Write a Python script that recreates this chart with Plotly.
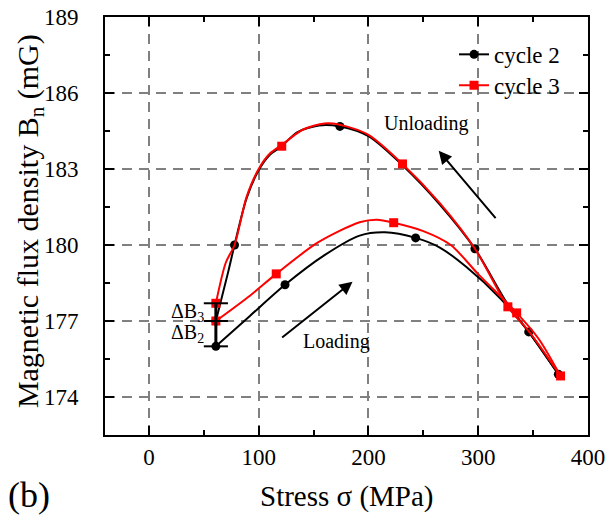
import plotly.graph_objects as go

# ---- curve paths (stress MPa, flux mG) ----
c2_load_x = [61, 92, 124, 160, 192, 215, 243, 265, 289, 320, 346, 373]
c2_load_y = [176.0, 177.2, 178.43, 179.6, 180.37, 180.5, 180.28, 179.9, 179.14, 177.9,
             176.57, 174.9]
c2_unload_x = [373, 346, 327, 297, 265, 231, 200, 174, 155, 135, 121, 110, 100, 89, 78, 72, 61]
c2_unload_y = [174.9, 176.57, 177.65, 179.85, 181.6, 183.15, 184.3, 184.68, 184.72, 184.45,
               183.9, 183.55, 182.95, 181.85, 180.0, 178.9, 177.0]

c3_load_x = [61, 92, 116, 154, 192, 208, 223, 250, 275, 300, 335, 355, 375]
c3_load_y = [177.0, 178.0, 178.86, 180.1, 180.9, 181.0, 180.88, 180.55, 180.0, 178.85,
             177.32, 176.3, 174.83]
c3_unload_x = [375, 346, 327, 297, 265, 231, 200, 174, 160, 140, 121, 110, 100, 89, 78, 70, 61]
c3_unload_y = [174.83, 176.6, 177.56, 179.85, 181.65, 183.2, 184.35, 184.75, 184.8, 184.55,
               183.95, 183.6, 183.0, 181.9, 180.0, 179.3, 177.7]

# ---- marked measurement points ----
c2_mark_x = [61, 124, 243, 346, 373, 297, 174, 78, 61]
c2_mark_y = [176.0, 178.43, 180.28, 176.57, 174.9, 179.85, 184.68, 180.0, 177.0]
c3_mark_x = [61, 116, 223, 335, 375, 327, 231, 121, 61]
c3_mark_y = [177.0, 178.86, 180.88, 177.32, 174.83, 177.56, 183.2, 183.9, 177.7]

x_tickvals = [0, 100, 200, 300, 400]
y_tickvals = [174, 177, 180, 183, 186, 189]

FONT = "Liberation Serif, Times New Roman, serif"

fig = go.Figure()

def add_cycle(name, color, symbol, lx, ly, ux, uy, mx, my, legend_id):
    for xs, ys in ((lx, ly), (ux, uy)):
        fig.add_trace(go.Scatter(
            x=xs, y=ys, mode="lines", showlegend=False,
            line=dict(color=color, width=2, shape="spline", smoothing=0.8),
            hoverinfo="skip"))
    fig.add_trace(go.Scatter(
        x=mx, y=my, mode="markers", showlegend=False,
        marker=dict(color=color, symbol=symbol, size=9)))
    # legend entry
    fig.add_trace(go.Scatter(
        x=[None], y=[None], mode="lines+markers", name=name, legend=legend_id,
        line=dict(color=color, width=2), marker=dict(color=color, symbol=symbol, size=9)))

add_cycle("cycle 2", "#000000", "circle", c2_load_x, c2_load_y,
          c2_unload_x, c2_unload_y, c2_mark_x, c2_mark_y, "legend")
add_cycle("cycle 3", "#ff0000", "square", c3_load_x, c3_load_y,
          c3_unload_x, c3_unload_y, c3_mark_x, c3_mark_y, "legend2")

# ---- delta B bracket at the start of the loops ----
xc = c2_load_x[0]
half = 11
y_low, y_mid, y_top = c2_load_y[0], c3_load_y[0], c3_unload_y[-1]
shapes = [dict(type="line", xref="x", yref="y", x0=xc, x1=xc, y0=y_low, y1=y_top,
               line=dict(color="black", width=3))]
for yv in (y_low, y_mid, y_top):
    shapes.append(dict(type="line", xref="x", yref="y", x0=xc - half, x1=xc + half,
                       y0=yv, y1=yv, line=dict(color="black", width=2)))

annotations = [
    dict(x=xc - 9, y=(y_mid + y_top) / 2, xref="x", yref="y",
         text="ΔB<sub>3</sub>", showarrow=False, xanchor="right", yanchor="middle",
         font=dict(family=FONT, size=20, color="black")),
    dict(x=xc - 9, y=(y_low + y_mid) / 2, xref="x", yref="y",
         text="ΔB<sub>2</sub>", showarrow=False, xanchor="right", yanchor="middle",
         font=dict(family=FONT, size=20, color="black")),
    dict(x=252, y=184.8, xref="x", yref="y", text="Unloading", showarrow=False,
         font=dict(family=FONT, size=20, color="black")),
    dict(x=171, y=176.2, xref="x", yref="y", text="Loading", showarrow=False,
         font=dict(family=FONT, size=20, color="black")),
    dict(x=264, y=183.72, ax=317, ay=181.0, xref="x", yref="y", axref="x", ayref="y",
         text="", showarrow=True, arrowhead=2, arrowsize=1.3, arrowwidth=2,
         arrowcolor="black"),
    dict(x=185.5, y=178.55, ax=120, ay=176.3, xref="x", yref="y", axref="x", ayref="y",
         text="", showarrow=True, arrowhead=2, arrowsize=1.3, arrowwidth=2,
         arrowcolor="black"),
    dict(x=-0.205, y=-0.143, xref="paper", yref="paper", text="(b)", showarrow=False,
         xanchor="left", yanchor="middle",
         font=dict(family=FONT, size=36, color="black")),
    dict(x=0.5, y=-0.148, xref="paper", yref="paper", text="Stress σ (MPa)",
         showarrow=False, xanchor="center", yanchor="middle",
         font=dict(family=FONT, size=29, color="black")),
    dict(x=-0.155, y=0.512, xref="paper", yref="paper",
         text="Magnetic flux density B<sub>n</sub> (mG)", textangle=-90,
         showarrow=False, xanchor="center", yanchor="middle",
         font=dict(family=FONT, size=30, color="black")),
]

axis_common = dict(
    showline=True, linewidth=2, linecolor="black", mirror="allticks",
    ticks="inside", ticklen=9, tickwidth=2, tickcolor="black",
    showgrid=True, gridcolor="#808080", gridwidth=2, griddash="10px,7px",
    zeroline=False, automargin=False,
    tickfont=dict(family=FONT, size=23, color="black"),
)

legend_style = dict(xanchor="left", yanchor="top", bgcolor="rgba(0,0,0,0)",
                    font=dict(family=FONT, size=23, color="black"))

fig.update_layout(
    width=616, height=519,
    margin=dict(l=105, r=28, t=17, b=84),
    paper_bgcolor="white", plot_bgcolor="white",
    font=dict(family=FONT, color="black"),
    xaxis=dict(range=[-40, 400], tickvals=x_tickvals,
               minor=dict(tickvals=[50, 150, 250, 350], ticks="inside", ticklen=5,
                          tickwidth=2, tickcolor="black", showgrid=False),
               **axis_common),
    yaxis=dict(range=[172.5, 189], tickvals=y_tickvals,
               minor=dict(tickvals=[175.5, 178.5, 181.5, 184.5, 187.5], ticks="inside",
                          ticklen=5, tickwidth=2, tickcolor="black", showgrid=False),
               ticklabelstandoff=20,
               **axis_common),
    legend=dict(x=0.7226, y=0.962, **legend_style),
    legend2=dict(x=0.7226, y=0.888, **legend_style),
    shapes=shapes, annotations=annotations, showlegend=True,
)

fig.write_html("out.html", config={"displayModeBar": False},
               post_script="document.body.style.margin='0';document.body.style.overflow='hidden';")
